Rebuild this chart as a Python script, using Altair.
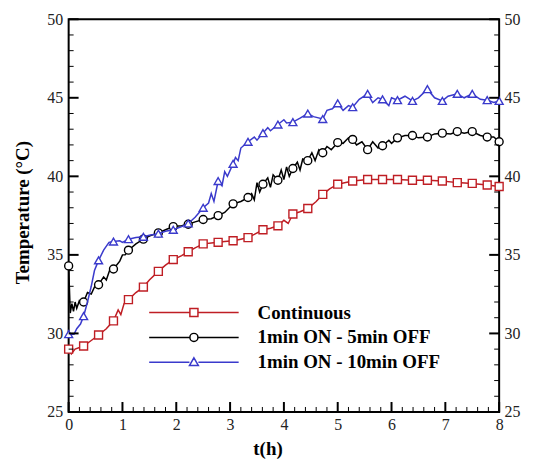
import altair as alt
import pandas as pd

# ---------------- data ----------------
series_names = ["Continuous", "1min ON - 5min OFF", "1min ON - 10min OFF"]

marker_t = [0, 0.278, 0.556, 0.833, 1.111, 1.389, 1.667, 1.944, 2.222, 2.5,
            2.778, 3.056, 3.333, 3.611, 3.889, 4.167, 4.444, 4.722, 5.0, 5.278,
            5.556, 5.833, 6.111, 6.389, 6.667, 6.944, 7.222, 7.5, 7.778, 8.0]
red_marker = [29.0, 29.2, 29.9, 30.8, 32.15, 32.95, 33.95, 34.7, 35.2, 35.7,
              35.8, 35.9, 36.1, 36.6, 36.85, 37.6, 37.95, 38.85, 39.5, 39.7,
              39.8, 39.8, 39.8, 39.75, 39.75, 39.7, 39.6, 39.55, 39.45, 39.35]
black_marker = [34.3, 32.0, 33.1, 34.1, 35.3, 36.0, 36.4, 36.8, 36.95, 37.25,
                37.5, 38.25, 38.65, 39.5, 39.75, 40.5, 41.0, 41.5, 42.15, 42.35,
                41.7, 41.95, 42.45, 42.6, 42.5, 42.75, 42.85, 42.85, 42.5, 42.2]
blue_marker = [29.95, 31.1, 34.65, 35.85, 36.0, 36.15, 36.35, 36.6, 37.0, 38.0,
               39.7, 40.8, 42.2, 42.75, 43.3, 43.45, 44.0, 43.65, 44.65, 44.4,
               45.25, 44.9, 44.85, 44.8, 45.55, 44.8, 45.25, 45.25, 44.85, 44.8]

red_line_t = [0, 0.05, 0.12, 0.278, 0.42, 0.556, 0.7, 0.833, 0.92, 0.97,
              1.03, 1.111, 1.25, 1.389, 1.5, 1.667, 1.8, 1.944, 2.1, 2.222,
              2.35, 2.5, 2.65, 2.778, 2.9, 3.056, 3.2, 3.333, 3.45, 3.611,
              3.75, 3.889, 4.0, 4.08, 4.167, 4.3, 4.444, 4.6, 4.722, 4.85,
              5.0, 5.278, 5.556, 5.833, 6.111, 6.389, 6.667, 6.944, 7.222, 7.5,
              7.778, 8.0]
red_line_v = [29.0, 28.7, 29.0, 29.2, 29.55, 29.9, 30.3, 30.8, 31.5, 31.2,
              31.9, 32.15, 32.6, 32.95, 33.4, 33.95, 34.35, 34.7, 34.95, 35.2,
              35.45, 35.7, 35.75, 35.8, 35.85, 35.9, 36.0, 36.1, 36.3, 36.6,
              36.7, 36.85, 37.2, 37.0, 37.6, 37.75, 37.95, 38.4, 38.85, 39.2,
              39.5, 39.7, 39.8, 39.8, 39.8, 39.75, 39.75, 39.7, 39.6, 39.55,
              39.45, 39.35]

black_line_t = [0, 0.03, 0.06, 0.09, 0.12, 0.15, 0.2, 0.278, 0.35, 0.42,
                0.5, 0.556, 0.65, 0.7, 0.76, 0.833, 0.95, 1.0, 1.05, 1.111,
                1.25, 1.389, 1.5, 1.667, 1.8, 1.944, 2.1, 2.222, 2.35, 2.5,
                2.65, 2.778, 2.9, 3.056, 3.2, 3.333, 3.4, 3.45, 3.5, 3.55,
                3.611, 3.7, 3.75, 3.8, 3.889, 3.95, 4.0, 4.05, 4.1, 4.167,
                4.25, 4.3, 4.35, 4.444, 4.52, 4.58, 4.65, 4.722, 4.8, 4.88,
                5.0, 5.1, 5.2, 5.278, 5.35, 5.45, 5.556, 5.65, 5.75, 5.833,
                5.95, 6.0, 6.111, 6.25, 6.389, 6.5, 6.667, 6.8, 6.944, 7.1,
                7.222, 7.35, 7.5, 7.65, 7.778, 7.9, 8.0]
black_line_v = [34.3, 31.3, 31.9, 31.4, 32.0, 31.6, 32.1, 32.0, 32.6, 32.5,
                33.1, 33.1, 33.6, 33.4, 34.0, 34.1, 34.6, 35.0, 35.0, 35.3,
                35.7, 36.0, 36.2, 36.4, 36.6, 36.8, 36.85, 36.95, 37.1, 37.25,
                37.3, 37.5, 37.7, 38.25, 38.4, 38.65, 38.9, 38.5, 39.6, 39.0,
                39.5, 39.9, 39.3, 40.1, 39.75, 40.4, 39.8, 40.6, 40.0, 40.5,
                40.9, 40.4, 41.1, 41.0, 41.5, 41.0, 41.7, 41.5, 41.9, 41.7,
                42.15, 42.1, 42.45, 42.35, 42.0, 42.2, 41.7, 42.2, 41.8, 41.95,
                42.3, 42.1, 42.45, 42.6, 42.6, 42.45, 42.5, 42.7, 42.75, 42.7,
                42.85, 42.75, 42.85, 42.6, 42.5, 42.5, 42.2]

blue_line_t = [0, 0.1, 0.15, 0.22, 0.278, 0.35, 0.42, 0.48, 0.556, 0.65,
               0.75, 0.833, 0.95, 1.0, 1.111, 1.25, 1.389, 1.5, 1.667, 1.8,
               1.944, 2.1, 2.222, 2.35, 2.45, 2.5, 2.6, 2.65, 2.7, 2.778,
               2.85, 2.9, 2.95, 3.056, 3.1, 3.15, 3.2, 3.333, 3.45, 3.5,
               3.611, 3.7, 3.75, 3.889, 4.0, 4.05, 4.167, 4.3, 4.444, 4.55,
               4.722, 4.8, 4.9, 5.0, 5.1, 5.2, 5.278, 5.4, 5.556, 5.65,
               5.75, 5.833, 5.95, 6.0, 6.111, 6.25, 6.389, 6.5, 6.667, 6.8,
               6.944, 7.05, 7.222, 7.35, 7.5, 7.65, 7.778, 7.9, 8.0]
blue_line_v = [29.95, 29.95, 30.3, 30.6, 31.1, 32.0, 33.0, 34.0, 34.65, 35.3,
               35.8, 35.85, 35.9, 35.8, 36.0, 36.1, 36.15, 36.25, 36.35, 36.5,
               36.6, 36.8, 37.0, 37.4, 37.8, 38.0, 38.3, 38.9, 38.4, 39.7,
               39.4, 40.3, 40.0, 40.8, 41.2, 41.0, 41.8, 42.2, 42.5, 42.3,
               42.75, 43.1, 42.9, 43.3, 43.6, 43.4, 43.45, 43.7, 44.0, 43.8,
               43.65, 44.2, 44.3, 44.65, 44.2, 44.5, 44.4, 44.9, 45.25, 44.7,
               45.0, 44.9, 44.5, 45.0, 44.85, 45.1, 44.8, 45.0, 45.55, 45.0,
               44.8, 45.1, 45.25, 45.0, 45.25, 44.9, 44.85, 44.7, 44.8]

y_major = [25, 30, 35, 40, 45, 50]
y_minor = [v for v in range(25, 51) if v % 5 != 0]
x_major = [0, 1, 2, 3, 4, 5, 6, 7, 8]
x_minor = [round(i * 0.2, 1) for i in range(41) if i % 5 != 0]

# ---------------- styling ----------------
RED, BLACK, BLUE = "#bf1e24", "#000000", "#3a3acc"
colors = [RED, BLACK, BLUE]
SERIF = "Liberation Serif"
W, H = 433, 395
MAJ, MIN = 10, 5
X0, X1, Y0, Y1 = 0, 8, 25, 50

xscale = alt.Scale(domain=[X0, X1], nice=False, zero=False)
yscale = alt.Scale(domain=[Y0, Y1], nice=False, zero=False)

label_style = dict(ticks=False, domain=False, grid=False, labelFont=SERIF, labelFontSize=16,
                   labelColor="#222", labelFlush=False, labelOverlap=False)

x_axis = alt.Axis(orient="bottom", values=x_major, format="d", labelPadding=5,
                  labelBaseline="top", labelAlign="center",
                  title="t(h)", titleFont=SERIF, titleFontSize=19, titleFontWeight="bold",
                  titleColor="black", titleX=200, titleY=43, titleBaseline="alphabetic",
                  titleAlign="center", **label_style)

y_axis_left = alt.Axis(orient="left", values=y_major, labelPadding=6, labelAlign="right",
                       labelBaseline="middle",
                       title="Temperature (°C)", titleFont=SERIF, titleFontSize=19,
                       titleFontWeight="bold", titleColor="black", titleAngle=270,
                       titleX=-46, titleY=194, titleAlign="center", titleBaseline="middle",
                       **label_style)
y_axis_right = alt.Axis(orient="right", values=y_major, labelPadding=5, labelAlign="left",
                        labelBaseline="middle", title=None, **label_style)

X = alt.X("t:Q", scale=xscale, axis=x_axis)
Y = alt.Y("v:Q", scale=yscale, axis=y_axis_left)


def line_layer(ts, vs, color):
    df = pd.DataFrame({"t": ts, "v": vs})
    return alt.Chart(df).mark_line(color=color, strokeWidth=1.5).encode(x=X, y=Y)


def marker_layer(ts, vs, color, shape):
    df = pd.DataFrame({"t": ts, "v": vs})
    return alt.Chart(df).mark_point(shape=shape, size=64, filled=False, fill="white",
                                    stroke=color, strokeWidth=1.4, opacity=1).encode(x=X, y=Y)


# inward tick marks drawn as short line segments (tick length converted from px to data units)
def y_tick_layer(values, length, width, side):
    df = pd.DataFrame([{"v": v, "end": e} for v in values for e in (0, 1)])
    span = length * (X1 - X0) / W
    expr = f"{X0} + datum.end * {span}" if side == "left" else f"{X1} - datum.end * {span}"
    return alt.Chart(df).transform_calculate(t=expr).mark_line(
        color="black", strokeWidth=width, strokeCap="butt").encode(
        x=X, y=Y, detail="v:Q", order="end:Q")


def x_tick_layer(values, length, width):
    df = pd.DataFrame([{"t": t, "end": e} for t in values for e in (0, 1)])
    span = length * (Y1 - Y0) / H
    return alt.Chart(df).transform_calculate(v=f"{Y0} + datum.end * {span}").mark_line(
        color="black", strokeWidth=width, strokeCap="butt").encode(
        x=X, y=Y, detail="t:Q", order="end:Q")


# legend symbols: line with marker in the middle
sym_square = "M-1,0H-0.1M0.1,0H1M-0.09,-0.09H0.09V0.09H-0.09Z"
sym_circle = "M-1,0H-0.1M0.1,0H1M0.09,0A0.09,0.09,0,1,1,-0.09,0A0.09,0.09,0,1,1,0.09,0Z"
sym_tri = "M-1,0H-0.1M0.1,0H1M0,-0.1L0.1,0.075H-0.1Z"

legend = alt.Legend(orient="none", legendX=80, legendY=284, title=None,
                    symbolSize=8100, symbolStrokeWidth=1.5, clipHeight=22, rowPadding=3,
                    labelOffset=18, labelFont=SERIF, labelFontSize=19, labelFontWeight="bold",
                    labelColor="black", labelLimit=400, padding=0, symbolOffset=0)

legend_layer = alt.Chart(pd.DataFrame({"series": series_names})).transform_filter(
    "false").mark_point(filled=False, strokeWidth=1.5, opacity=1).encode(
    shape=alt.Shape("series:N", scale=alt.Scale(domain=series_names,
                                                range=[sym_square, sym_circle, sym_tri]),
                    legend=legend),
    color=alt.Color("series:N", scale=alt.Scale(domain=series_names, range=colors),
                    legend=legend),
)

inner = alt.layer(
    line_layer(red_line_t, red_line_v, RED),
    marker_layer(marker_t, red_marker, RED, "square"),
    line_layer(black_line_t, black_line_v, BLACK),
    marker_layer(marker_t, black_marker, BLACK, "circle"),
    line_layer(blue_line_t, blue_line_v, BLUE),
    marker_layer(marker_t, blue_marker, BLUE, "triangle-up"),
    y_tick_layer(y_major, MAJ, 2, "left"),
    y_tick_layer(y_minor, MIN, 1, "left"),
    y_tick_layer(y_major, MAJ, 2, "right"),
    y_tick_layer(y_minor, MIN, 1, "right"),
    x_tick_layer(x_major, MAJ, 2),
    x_tick_layer(x_minor, MIN, 1),
    legend_layer,
)

right_axis_layer = alt.Chart(pd.DataFrame({"v": [Y0, Y1]})).mark_point(opacity=0).encode(
    y=alt.Y("v:Q", scale=yscale, axis=y_axis_right))

chart = alt.layer(inner, right_axis_layer).resolve_scale(y="independent").properties(
    width=W, height=H,
    padding={"left": 61, "top": 10, "right": 26, "bottom": 47},
    autosize=alt.AutoSizeParams(type="none"),
).configure_view(stroke="black", strokeWidth=2)

chart.save("out.html", embed_options={"renderer": "svg", "actions": False})
